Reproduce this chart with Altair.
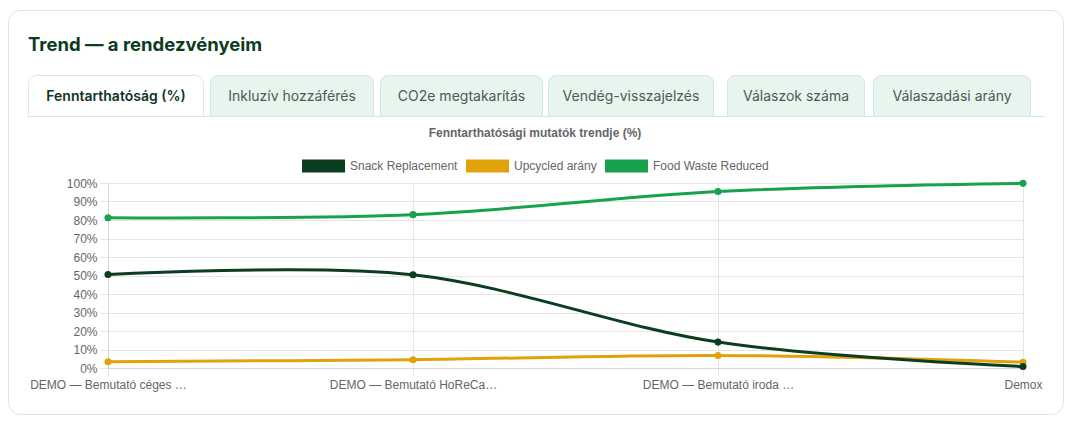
import altair as alt
import pandas as pd

# ---------------- data ----------------
categories = [
    "DEMO — Bemutató céges …",
    "DEMO — Bemutató HoReCa…",
    "DEMO — Bemutató iroda …",
    "Demox",
]
series_names = ["Snack Replacement", "Upcycled arány", "Food Waste Reduced"]
snack_replacement = [50.5, 50.4, 14.0, 0.8]
upcycled_arany = [3.4, 4.5, 6.8, 3.1]
food_waste_reduced = [81.2, 82.9, 95.4, 99.8]
series_colors = ["#0b3d20", "#e0a30c", "#18a24e"]
y_ticks = [0, 10, 20, 30, 40, 50, 60, 70, 80, 90, 100]

card_title = "Trend — a rendezvényeim"
chart_title = "Fenntarthatósági mutatók trendje (%)"
tab_labels = [
    "Fenntarthatóság (%)",
    "Inkluzív hozzáférés",
    "CO2e megtakarítás",
    "Vendég-visszajelzés",
    "Válaszok száma",
    "Válaszadási arány",
]

# ---------------- layout (pixels, relative to plot origin) ----------------
W, H = 915, 185
OX, OY = 108, 183  # page position of plot origin
tab_edges = [(28, 204), (210, 374), (380, 543), (548, 714), (727, 865), (873, 1031)]
active_tab = 0

rows = []
series_values = [snack_replacement, upcycled_arany, food_waste_reduced]
for idx in [2, 1, 0]:
    for c, v in zip(categories, series_values[idx]):
        rows.append({"event": c, "series": series_names[idx], "value": v})
df = pd.DataFrame(rows)

AX_FONT = "Liberation Sans"
GRID = "#e5e5e5"

x_enc = alt.X(
    "event:N",
    sort=categories,
    scale=alt.Scale(type="point", padding=0),
    axis=alt.Axis(
        title=None, labelAngle=0, grid=True, gridColor=GRID, tickColor=GRID,
        tickSize=8, domainColor="#d6d6d6", labelFont=AX_FONT, labelFontSize=12,
        labelColor="#666666", labelPadding=3,
    ),
)
y_enc = alt.Y(
    "value:Q",
    scale=alt.Scale(domain=[0, 100], nice=False),
    axis=alt.Axis(
        title=None, values=y_ticks, labelExpr="datum.value + '%'", grid=True,
        gridColor=GRID, tickColor=GRID, tickSize=8, domainColor="#d6d6d6",
        labelFont=AX_FONT, labelFontSize=12, labelColor="#666666", labelPadding=3,
    ),
)

legend = alt.Legend(
    title=None, orient="none", legendX=194, legendY=-38.5,
    direction="horizontal", symbolType="M-1,-0.3H1V0.3H-1Z",
    symbolSize=1849, symbolStrokeWidth=0, symbolOpacity=1,
    labelFont=AX_FONT, labelFontSize=12, labelColor="#666666",
    labelOffset=5, columnPadding=8, padding=0,
)
color_scale = alt.Scale(domain=series_names, range=series_colors)

lines = alt.Chart(df).mark_line(strokeWidth=3, interpolate="cardinal").encode(
    x=x_enc,
    y=y_enc,
    stroke=alt.Stroke("series:N", scale=color_scale, legend=legend),
)
points = alt.Chart(df).mark_point(filled=True, size=50, opacity=1).encode(
    x=x_enc,
    y=y_enc,
    fill=alt.Fill("series:N", scale=color_scale, legend=legend),
)

one = pd.DataFrame({"k": [0]})
base = alt.Chart(one)

layers = []
# card (outline only, so axes behind marks stay visible)
layers.append(
    base.mark_rect(fill="transparent", stroke="#dbe7e0", strokeWidth=1, cornerRadius=12).encode(
        x=alt.value(8.5 - OX), x2=alt.value(1063.5 - OX),
        y=alt.value(10.5 - OY), y2=alt.value(414.5 - OY),
    )
)
# card title
layers.append(
    base.mark_text(
        text=card_title, font="Inter", fontSize=18.5, fontWeight=700, color="#0b3d20",
        align="left", baseline="alphabetic",
    ).encode(x=alt.value(28 - OX), y=alt.value(51 - OY))
)
# tabs
for i, (lab, (l, r)) in enumerate(zip(tab_labels, tab_edges)):
    active = i == active_tab
    layers.append(
        base.mark_rect(
            fill="white" if active else "#e8f5ee",
            stroke="#dbe7e0" if active else "#d2e7da",
            strokeWidth=1, cornerRadiusTopLeft=8, cornerRadiusTopRight=8,
        ).encode(
            x=alt.value(l + 0.5 - OX), x2=alt.value(r - 0.5 - OX),
            y=alt.value(75.5 - OY), y2=alt.value(116.5 - OY),
        )
    )
    layers.append(
        base.mark_text(
            text=lab, font="Inter", fontSize=14,
            fontWeight=600 if active else 400,
            color="#10341f" if active else "#4d5a53",
            align="center", baseline="middle",
        ).encode(x=alt.value((l + r) / 2 - OX), y=alt.value(97 - OY))
    )
# line under tabs
layers.append(
    base.mark_rule(color="#d9e6df", strokeWidth=1).encode(
        x=alt.value(28 - OX), x2=alt.value(1045 - OX), y=alt.value(116.5 - OY)
    )
)
# chart title
layers.append(
    base.mark_text(
        text=chart_title, font=AX_FONT, fontSize=12, fontWeight="bold", color="#666666",
        align="center", baseline="middle",
    ).encode(x=alt.value(535 - OX), y=alt.value(133 - OY))
)

chart = alt.layer(*layers, lines, points).properties(
    width=W,
    height=H,
    autosize=alt.AutoSizeParams(type="none"),
    padding={"left": 100, "top": 175, "right": 41, "bottom": 47},
).configure_view(stroke=None)

chart.save("out.html", embed_options={"renderer": "svg", "actions": False})
